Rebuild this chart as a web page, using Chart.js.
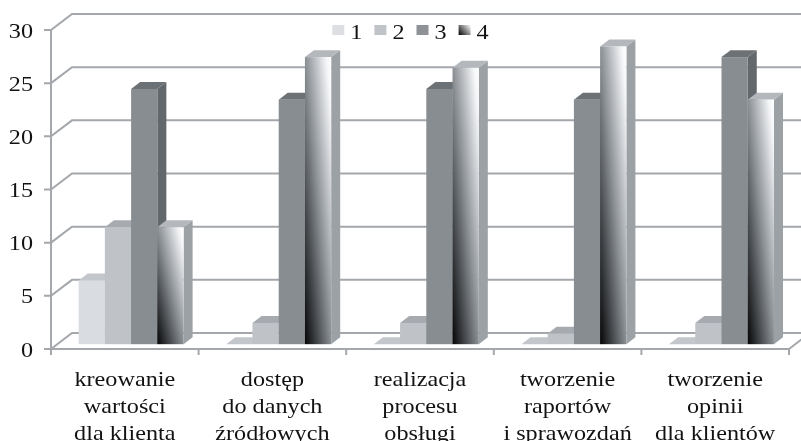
<!DOCTYPE html>
<html>
<head>
<meta charset="utf-8">
<title>Wykres</title>
<script src="https://cdn.jsdelivr.net/npm/chart.js@4.4.1/dist/chart.umd.min.js"></script>
<style>
  html, body { margin: 0; padding: 0; background: #ffffff; }
  canvas { display: block; }
</style>
</head>
<body>
<canvas id="chart" width="801" height="441"></canvas>
<script>
// ---- data ----
const categories = [
  ["kreowanie", "wartości", "dla klienta"],
  ["dostęp", "do danych", "źródłowych"],
  ["realizacja", "procesu", "obsługi"],
  ["tworzenie", "raportów", "i sprawozdań"],
  ["tworzenie", "opinii", "dla klientów"]
];
const seriesNames = ["1", "2", "3", "4"];
const series1 = [6, 0, 0, 0, 0];
const series2 = [11, 2, 2, 1, 2];
const series3 = [24, 23, 24, 23, 27];
const series4 = [11, 27, 26, 28, 23];
const yTicks = [0, 5, 10, 15, 20, 25, 30];

// ---- look ----
const X_STRETCH = 1.1;                 // wide serif lettering
const FONT = '22px "Liberation Serif", "Times New Roman", serif';
const TEXT_COLOR = '#121212';
const GRID_COLOR = '#a4a8ac';
const DEPTH = { dx: 21, dy: -16 };     // receding axis of the 3-D box
const SLAB = { near: 0.3, far: 0.73 }; // depth band occupied by the bars

const faceStyles = [
  { front: '#d9dce0', top: '#c3c7cb', side: '#b4b8bc', swatch: '#dcdee1' },
  { front: '#bfc3c8', top: '#a7abb0', side: '#9ea2a7', swatch: '#c0c3c7' },
  { front: '#888d92', top: '#6c7175', side: '#63686c', swatch: '#8e9296' },
  { front: null,      top: '#b4b8bc', side: '#9ca1a6', swatch: null }
];

// Diagonal fill that scales with the shape: dark at bottom-left, light at top-right.
function diagonalFill(ctx, x, y, w, h) {
  if (w <= 0 || h <= 0) return '#8a8f94';
  const ax = 1 / (2 * w), ay = -1 / (2 * h);
  const n = ax * ax + ay * ay;
  const g = ctx.createLinearGradient(x, y + h, x + ax / n, y + h + ay / n);
  g.addColorStop(0, '#040506');
  g.addColorStop(0.5, '#8a8f94');
  g.addColorStop(0.9, '#f4f5f7');
  g.addColorStop(1, '#ffffff');
  return g;
}

function poly(ctx, pts, fill) {
  ctx.beginPath();
  ctx.moveTo(pts[0][0], pts[0][1]);
  for (let i = 1; i < pts.length; i++) ctx.lineTo(pts[i][0], pts[i][1]);
  ctx.closePath();
  ctx.fillStyle = fill;
  ctx.fill();
}

function wideText(ctx, str, x, y, align) {
  ctx.save();
  ctx.translate(x, y);
  ctx.scale(X_STRETCH, 1);
  ctx.textAlign = align;
  ctx.textBaseline = 'alphabetic';
  ctx.fillText(str, 0, 0);
  ctx.restore();
}

const box3d = {
  id: 'box3d',
  // back wall grid, floor edge and front axes
  beforeDatasetsDraw(chart) {
    const { ctx, chartArea: a, scales: { x, y } } = chart;
    ctx.save();
    ctx.strokeStyle = GRID_COLOR;
    ctx.lineWidth = 2;
    ctx.lineCap = 'butt';
    ctx.lineJoin = 'miter';
    yTicks.forEach(v => {
      const py = y.getPixelForValue(v);
      ctx.beginPath();
      ctx.moveTo(a.left - 7, py);
      ctx.lineTo(a.left, py);
      ctx.lineTo(a.left + DEPTH.dx, py + DEPTH.dy);
      ctx.lineTo(a.right + DEPTH.dx, py + DEPTH.dy);
      ctx.stroke();
    });
    ctx.beginPath();
    ctx.moveTo(a.left, y.getPixelForValue(yTicks[yTicks.length - 1]));
    ctx.lineTo(a.left, a.bottom);
    ctx.lineTo(a.right, a.bottom);
    ctx.lineTo(a.right + DEPTH.dx, a.bottom + DEPTH.dy);
    ctx.stroke();
    for (let i = 0; i <= categories.length; i++) {
      const px = x.getPixelForValue(i - 0.5);
      ctx.beginPath();
      ctx.moveTo(px, a.bottom);
      ctx.lineTo(px, a.bottom + 6);
      ctx.stroke();
    }
    ctx.restore();
  },
  // 3-D columns built on the bar elements' geometry
  afterDatasetsDraw(chart) {
    const { ctx } = chart;
    const nx = DEPTH.dx * SLAB.near, ny = DEPTH.dy * SLAB.near;
    const bx = DEPTH.dx * (SLAB.far - SLAB.near), by = DEPTH.dy * (SLAB.far - SLAB.near);
    ctx.save();
    for (let i = 0; i < categories.length; i++) {
      chart.data.datasets.forEach((ds, d) => {
        const el = chart.getDatasetMeta(d).data[i];
        const p = el.getProps(['x', 'y', 'base', 'width'], true);
        const l = p.x - p.width / 2 + nx;
        const r = l + p.width;
        const t = Math.min(p.y, p.base) + ny;
        const b = Math.max(p.y, p.base) + ny;
        const st = faceStyles[d];
        // right side
        poly(ctx, [[r, t], [r + bx, t + by], [r + bx, b + by], [r, b]], st.side);
        // top
        poly(ctx, [[l, t], [l + bx, t + by], [r + bx, t + by], [r, t]], st.top);
        // front
        if (b - t > 0) {
          ctx.fillStyle = st.front || diagonalFill(ctx, l, t, r - l, b - t);
          ctx.fillRect(l, t, r - l, b - t);
        }
      });
    }
    ctx.restore();
  },
  // axis labels and legend
  afterDraw(chart) {
    const { ctx, chartArea: a, scales: { x, y } } = chart;
    ctx.save();
    ctx.font = FONT;
    ctx.fillStyle = TEXT_COLOR;
    yTicks.forEach(v => {
      wideText(ctx, String(v), a.left - 18, y.getPixelForValue(v) + 7.5, 'right');
    });
    categories.forEach((lines, i) => {
      const cx = x.getPixelForValue(i);
      lines.forEach((s, k) => wideText(ctx, s, cx, a.bottom + 37 + k * 26.8, 'center'));
    });
    // legend
    const sw = 12, sh = 10, gap = 6, itemGap = 12;
    const widths = seriesNames.map(n => ctx.measureText(n).width * X_STRETCH);
    const total = widths.reduce((s, w) => s + sw + gap + w, 0) + itemGap * (seriesNames.length - 1);
    let lx = 410.5 - total / 2;
    const ly = 25;
    seriesNames.forEach((n, d) => {
      const st = faceStyles[d];
      ctx.fillStyle = st.swatch || (() => {
        const g = ctx.createLinearGradient(lx, ly + sh, lx + sw, ly);
        g.addColorStop(0, '#000000');
        g.addColorStop(1, '#ffffff');
        return g;
      })();
      ctx.fillRect(lx, ly, sw, sh);
      lx += sw + gap;
      ctx.fillStyle = TEXT_COLOR;
      wideText(ctx, n, lx, ly + 13.5, 'left');
      lx += widths[d] + itemGap;
    });
    ctx.restore();
  }
};

const seriesValues = [series1, series2, series3, series4];

new Chart(document.getElementById('chart').getContext('2d'), {
  type: 'bar',
  data: {
    labels: categories.map(c => c.join(' ')),
    datasets: seriesNames.map((name, i) => ({
      label: name,
      data: seriesValues[i],
      backgroundColor: 'rgba(0,0,0,0)',
      borderWidth: 0,
      categoryPercentage: 0.711,
      barPercentage: 1.0
    }))
  },
  options: {
    responsive: false,
    animation: false,
    events: [],
    layout: { padding: { left: 0, right: 12, top: 30, bottom: 0 } },
    plugins: { legend: { display: false }, tooltip: { enabled: false } },
    scales: {
      x: {
        offset: true,
        grid: { display: false, drawTicks: false },
        border: { display: false },
        ticks: { display: false },
        afterFit: s => { s.height = 92; }
      },
      y: {
        min: 0,
        max: 30,
        ticks: { display: false, stepSize: 5 },
        grid: { display: false, drawTicks: false },
        border: { display: false },
        afterFit: s => { s.width = 51; }
      }
    }
  },
  plugins: [box3d]
});
</script>
</body>
</html>
